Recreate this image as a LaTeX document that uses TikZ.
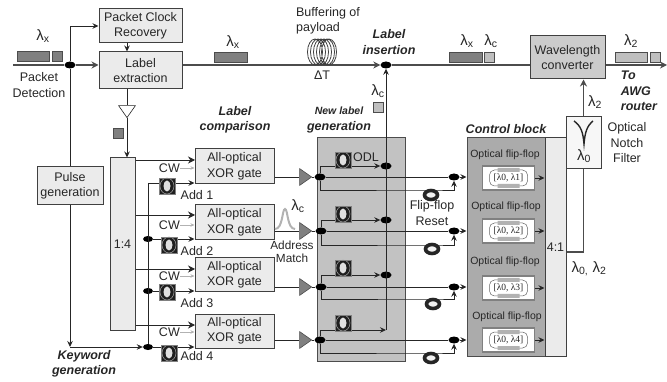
\documentclass[tikz,border=0pt]{standalone}
\usepackage{fontspec}
\setmainfont{Liberation Sans}
\newfontfamily\serifgreek{Liberation Serif}
\usetikzlibrary{shapes, arrows.meta, positioning, calc}

\begin{document}
\begin{tikzpicture}[
        x=1pt, y=-1pt,
        box/.style={rectangle, draw=black!75, line width=1pt, fill=black!8, align=center, text=black!85, font=\fontsize{12.5}{15.5}\selectfont, inner sep=0pt},
        panel/.style={rectangle, draw=black!70, line width=1pt, inner sep=0pt},
        lab/.style={align=center, inner sep=0pt, text=black!85, font=\fontsize{12.5}{15.5}\selectfont},
        lam/.style={align=center, inner sep=0pt, text=black!85, font=\fontsize{15}{17}\selectfont},
        head/.style={align=center, inner sep=0pt, text=black!85, font=\fontsize{12.5}{15.5}\selectfont\bfseries\itshape},
        small/.style={align=center, inner sep=0pt, text=black!85, font=\fontsize{10.5}{12}\selectfont},
        sig/.style={-{Stealth[length=6pt,width=5.5pt]}, line width=0.9pt, draw=black!85},
        wire/.style={line width=0.9pt, draw=black!85},
        main/.style={line width=1.4pt, draw=black!70},
        tip/.style={-{Stealth[length=7pt,width=7pt]}},
        cwarrow/.style={-{Stealth[length=4pt,width=3.5pt]}, line width=0.9pt, draw=black!30},
        dot/.style={ellipse, fill=black, inner sep=0pt, minimum width=11pt, minimum height=7pt},
        amp/.style={isosceles triangle, isosceles triangle apex angle=70, draw=black!70, fill=black!50, inner sep=0pt, minimum height=12pt, line width=0.6pt},
        pkt/.style={rectangle, draw=black!70, fill=black!50, line width=0.6pt, inner sep=0pt, minimum height=10pt},
        pktlight/.style={pkt, fill=black!25},
        loopbox/.style={rectangle, draw=black!50, fill=black!88, line width=0.7pt, minimum size=16pt, inner sep=0pt,
            path picture={\fill[black!12] (path picture bounding box.center) ellipse (3.5pt and 5.5pt);
                \draw[black!35, line width=0.5pt] (path picture bounding box.center) ellipse (7pt and 8pt);}},
        loopring/.style={ellipse, draw=black!85, line width=3.6pt, fill=black!5, minimum width=13pt, minimum height=9pt, inner sep=0pt},
        ffbox/.style={rectangle, draw=black!50, fill=white, line width=1.6pt, minimum width=52pt, minimum height=24pt, inner sep=0pt, text=black!85, font=\fontsize{9.5}{11}\serifgreek}
    ]
        \useasboundingbox (0,0) rectangle (667,382);

        % ----------------------------------------------------
        % BLOCKS
        % ----------------------------------------------------
        \node[panel, fill=black!24, minimum width=88pt, minimum height=223pt] (newlabel) at (361,249.5) {};
        \node[panel, fill=black!33, minimum width=78pt, minimum height=218pt] (control) at (506,247) {};
        \node[box, minimum width=21pt, minimum height=218pt] (mux) at (555.5,247) {4:1};
        \node[box, fill=black!3, minimum width=35pt, minimum height=52pt] (notch) at (583.5,143) {};

        \node[box, minimum width=83pt, minimum height=34pt] (clock) at (140.5,26) {Packet Clock\\Recovery};
        \node[box, minimum width=83pt, minimum height=37pt] (extract) at (140.5,70.5) {Label\\extraction};
        \node[box, minimum width=25pt, minimum height=172pt] (split) at (122.5,244) {1:4};
        \node[box, minimum width=66pt, minimum height=38pt] (pulse) at (70,186) {Pulse\\generation};
        \node[box, minimum width=79pt, minimum height=35pt] (gateone) at (234.5,166.5) {All-optical\\XOR gate};
        \node[box, minimum width=79pt, minimum height=35pt] (gatetwo) at (234.5,222.5) {All-optical\\XOR gate};
        \node[box, minimum width=79pt, minimum height=34pt] (gatethree) at (234.5,275) {All-optical\\XOR gate};
        \node[box, minimum width=79pt, minimum height=34pt] (gatefour) at (234.5,331) {All-optical\\XOR gate};
        \node[box, fill=black!20, minimum width=75pt, minimum height=43pt] (conv) at (567.5,57.5) {Wavelength\\converter};

        % ----------------------------------------------------
        % JUNCTIONS
        % ----------------------------------------------------
        \coordinate (start) at (13,65);
        \coordinate (finish) at (667,65);
        \node[dot] (detect) at (70,65) {};
        \node[dot] (ins) at (386,65) {};
        \node[dot, minimum width=10pt, minimum height=6pt] (addtwo) at (148,239) {};
        \node[dot, minimum width=10pt, minimum height=6pt] (addthree) at (148,291) {};
        \node[dot, minimum width=10pt, minimum height=6pt] (addfour) at (148,347) {};
        \coordinate (addone) at (148,183);
        \coordinate (inone) at (195,160);
        \coordinate (intwo) at (195,215);
        \coordinate (inthree) at (195,269);
        \coordinate (infour) at (195,325);

        \node[dot] (tapone) at (320,177) {};
        \node[dot] (taptwo) at (321,231) {};
        \node[dot] (tapthree) at (321,287) {};
        \node[dot] (tapfour) at (320,340) {};
        \node[dot] (odlone) at (386,166) {};
        \node[dot] (odltwo) at (386,220) {};
        \node[dot] (odlthree) at (386,275) {};
        \coordinate (odlfour) at (386,330);
        \node[dot] (joinone) at (454,177) {};
        \node[dot] (jointwo) at (454,231) {};
        \node[dot] (jointhree) at (454,287) {};
        \node[dot] (joinfour) at (454,340) {};
        \coordinate (resetone) at (431,190);
        \coordinate (resettwo) at (432,245);
        \coordinate (resetthree) at (433,299);
        \coordinate (resetfour) at (431,353);

        \node[amp, shape border rotate=270, draw=black!85, fill=white] (preamp) at (127,110) {};
        \node[amp] (ampone) at (304,177) {};
        \node[amp] (amptwo) at (304,231) {};
        \node[amp] (ampthree) at (304,287) {};
        \node[amp] (ampfour) at (304,340) {};

        \node[lab, anchor=east] (cwone) at (180,168) {CW};
        \node[lab, anchor=east] (cwtwo) at (180,225) {CW};
        \node[lab, anchor=east] (cwthree) at (180,276) {CW};
        \node[lab, anchor=east] (cwfour) at (180,332) {CW};

        % ----------------------------------------------------
        % CONNECTIONS
        % ----------------------------------------------------
        \draw[main] (start) -- (detect);
        \draw[main, tip] (detect) -- (detect -| extract.west);
        \draw[main, tip] (extract.east |- ins) -- (ins);
        \draw[main] (ins) -- (ins -| conv.west);
        \draw[main, tip] (conv.east |- finish) -- (finish);
        \draw[sig] (detect) |- (clock.west);
        \draw[wire] (detect) -- (pulse.north);
        \draw[sig] (clock.south -| preamp) -- (extract.north -| preamp);
        \draw[wire] (extract.south -| preamp) -- (preamp.north);
        \draw[sig] (preamp.south) -- (split.north -| preamp);
        \draw[sig] (pulse.south) -- (addfour -| pulse.south);
        \draw[sig] (addfour -| pulse.south) -- (addfour);
        \draw[wire] (addone) -- (addfour);

        \draw[sig, tip] (inone -| split.east) -- (inone);
        \draw[sig, tip] (intwo -| split.east) -- (intwo);
        \draw[sig, tip] (inthree -| split.east) -- (inthree);
        \draw[sig, tip] (infour -| split.east) -- (infour);
        \draw[sig] (addone) -- (addone -| gateone.west);
        \draw[sig] (addtwo) -- (addtwo -| gatetwo.west);
        \draw[sig] (addthree) -- (addthree -| gatethree.west);
        \draw[sig] (addfour) -- (addfour -| gatefour.west);
        \draw[cwarrow] (cwone.east) -- (cwone.east -| gateone.west);
        \draw[cwarrow] (cwtwo.east) -- (cwtwo.east -| gatetwo.west);
        \draw[cwarrow] (cwthree.east) -- (cwthree.east -| gatethree.west);
        \draw[cwarrow] (cwfour.east) -- (cwfour.east -| gatefour.west);

        \draw[wire] (gateone.east |- ampone) -- (ampone.lower side);
        \draw[wire] (gatetwo.east |- amptwo) -- (amptwo.lower side);
        \draw[wire] (gatethree.east |- ampthree) -- (ampthree.lower side);
        \draw[wire] (gatefour.east |- ampfour) -- (ampfour.lower side);
        \draw[wire] (ampone.apex) -- (tapone);
        \draw[wire] (amptwo.apex) -- (taptwo);
        \draw[wire] (ampthree.apex) -- (tapthree);
        \draw[wire] (ampfour.apex) -- (tapfour);

        \draw[sig] (tapone) |- (odlone);
        \draw[sig] (taptwo) |- (odltwo);
        \draw[sig] (tapthree) |- (odlthree);
        \draw[sig] (tapfour) |- (odlfour);
        \draw[sig] (odlfour) -- (ins);
        \draw[wire] (tapone) -- (joinone);
        \draw[wire] (taptwo) -- (jointwo);
        \draw[wire] (tapthree) -- (jointhree);
        \draw[wire] (tapfour) -- (joinfour);
        \draw[sig] (joinone) -- (joinone -| control.west);
        \draw[sig] (jointwo) -- (jointwo -| control.west);
        \draw[sig] (jointhree) -- (jointhree -| control.west);
        \draw[sig] (joinfour) -- (joinfour -| control.west);
        \draw[sig] (tapone) |- (resetone) -| (joinone);
        \draw[sig] (taptwo) |- (resettwo) -| (jointwo);
        \draw[sig] (tapthree) |- (resetthree) -| (jointhree);
        \draw[sig] (tapfour) |- (resetfour) -| (joinfour);

        \draw[main] (notch.south) |- (mux.east |- 0,252);
        \draw[main, tip] (notch.north) -- (notch.north |- conv.south);

        % ----------------------------------------------------
        % FIBRE LOOPS
        % ----------------------------------------------------
        \node[loopbox] (loopaddone) at (167,186) {};
        \node[loopbox] (loopaddtwo) at (169,245) {};
        \node[loopbox] (loopaddthree) at (167,292) {};
        \node[loopbox] (loopaddfour) at (169,353) {};
        \node[loopbox] (loopodlone) at (343,160) {};
        \node[loopbox] (loopodltwo) at (343,214) {};
        \node[loopbox] (loopodlthree) at (343,268) {};
        \node[loopbox] (loopodlfour) at (343,323) {};
        \node[loopring] (ringone) at (431,195) {};
        \node[loopring] (ringtwo) at (432,249) {};
        \node[loopring] (ringthree) at (433,304) {};
        \node[loopring] (ringfour) at (431,358) {};

        \draw[black!75, line width=0.8pt]
            (315,52) ellipse (7.5pt and 13pt) (318,52) ellipse (7.5pt and 13pt) (321,52) ellipse (7.5pt and 13pt)
            (324,52) ellipse (7.5pt and 13pt) (327,52) ellipse (7.5pt and 13pt) (329,52) ellipse (7.5pt and 13pt);
        \draw[black!30, line width=2pt] (275,229) .. controls (283,229) and (282,209) .. (285,209) .. controls (288,209) and (287,229) .. (295,229);
        \draw[black!85, line width=1.4pt] (574,121) .. controls (581,126) and (583,132) .. (584,144) .. controls (585,132) and (587,126) .. (593,121);

        % ----------------------------------------------------
        % FLIP-FLOPS
        % ----------------------------------------------------
        \node[ffbox] (ffone) at (508.5,178) {[λ0, λ1]};
        \node[ffbox] (fftwo) at (508.5,231) {[λ0, λ2]};
        \node[ffbox] (ffthree) at (508.5,288) {[λ0, λ3]};
        \node[ffbox] (fffour) at (508.5,340) {[λ0, λ4]};
        \draw[black!60, line width=0.5pt, rounded corners=5pt] (ffone.center) ++(-19,-8) rectangle ++(38,16);
        \draw[black!60, line width=0.5pt, rounded corners=5pt] (fftwo.center) ++(-19,-8) rectangle ++(38,16);
        \draw[black!60, line width=0.5pt, rounded corners=5pt] (ffthree.center) ++(-19,-8) rectangle ++(38,16);
        \draw[black!60, line width=0.5pt, rounded corners=5pt] (fffour.center) ++(-19,-8) rectangle ++(38,16);
        \fill[black!30] (ffone.center) ++(-11,-10) rectangle ++(22,4) (ffone.center) ++(-11,6) rectangle ++(22,4);
        \fill[black!30] (fftwo.center) ++(-11,-10) rectangle ++(22,4) (fftwo.center) ++(-11,6) rectangle ++(22,4);
        \fill[black!30] (ffthree.center) ++(-11,-10) rectangle ++(22,4) (ffthree.center) ++(-11,6) rectangle ++(22,4);
        \fill[black!30] (fffour.center) ++(-11,-10) rectangle ++(22,4) (fffour.center) ++(-11,6) rectangle ++(22,4);
        \draw[sig] (ffone.east) -- (ffone.east -| mux.west);
        \draw[sig] (fftwo.east) -- (fftwo.east -| mux.west);
        \draw[sig] (ffthree.east) -- (ffthree.east -| mux.west);
        \draw[sig] (fffour.east) -- (fffour.east -| mux.west);
        \node[small] (ffaone) at (505,155) {Optical flip-flop};
        \node[small] (ffatwo) at (506,207) {Optical flip-flop};
        \node[small] (ffathree) at (505,262) {Optical flip-flop};
        \node[small] (ffafour) at (507,317) {Optical flip-flop};

        % ----------------------------------------------------
        % PACKETS
        % ----------------------------------------------------
        \node[pkt, minimum width=32pt] (pktin) at (33,56) {};
        \node[pkt, minimum width=10pt] (pktinlab) at (57,56) {};
        \node[pkt, minimum width=33pt] (pktbuf) at (230.5,57) {};
        \node[pkt, minimum width=33pt] (pktout) at (465.5,57) {};
        \node[pktlight, minimum width=10pt] (pktoutlab) at (489.5,57) {};
        \node[pktlight, minimum width=32pt] (pktfin) at (631,57) {};
        \node[pktlight, minimum width=10pt] (pktfinlab) at (655,57) {};
        \node[pkt, minimum width=10pt] (pktdrop) at (118,133) {};
        \node[pktlight, minimum width=10pt] (pktnew) at (378,107) {};

        % ----------------------------------------------------
        % LABELS
        % ----------------------------------------------------
        \node[lam] (lamin) at (43,36) {λ\textsubscript{x}};
        \node[lam] (lambuf) at (233,42) {λ\textsubscript{x}};
        \node[lam] (lamout) at (467,41) {λ\textsubscript{x}};
        \node[lam] (lamc) at (491,41) {λ\textsubscript{c}};
        \node[lam] (lamfin) at (631,41) {λ\textsubscript{2}};
        \node[lam] (lamnew) at (378,91) {λ\textsubscript{c}};
        \node[lam] (lamaddr) at (298,206) {λ\textsubscript{c}};
        \node[lam] (lamfb) at (595,102) {λ\textsubscript{2}};
        \node[lam] (lamnotch) at (584,156) {λ\textsubscript{0}};
        \node[lam] (lammux) at (589,269) {λ\textsubscript{0,} λ\textsubscript{2}};
        \node[lab] (detectlab) at (39,85) {Packet\\Detection};
        \node[lab, align=left] (bufferlab) at (328,21) {Buffering of\\payload};
        \node[lab] (delay) at (322,75) {ΔT};
        \node[head] (inslab) at (389,42) {Label\\insertion};
        \node[head] (cmplab) at (235,120) {Label\\comparison};
        \node[head] (newlab) at (339,120) {{\fontsize{10.5}{12}\selectfont New label}\\generation};
        \node[head] (ctrllab) at (506,129) {Control block};
        \node[head] (keylab) at (84,364) {Keyword\\generation};
        \node[head, align=left] (awglab) at (639,91) {To\\AWG\\router};
        \node[lab] (notchlab) at (627,143) {Optical\\Notch\\Filter};
        \node[lab, font=\fontsize{11.8}{13.5}\selectfont] (addrlab) at (292,252) {Address\\Match};
        \node[lab] (resetlab) at (432,213) {Flip-flop\\Reset};
        \node[lab] (odllab) at (366,157) {ODL};
        \node[lab] (addonelab) at (197,195) {Add 1};
        \node[lab] (addtwolab) at (197,251) {Add 2};
        \node[lab] (addthreelab) at (197,303) {Add 3};
        \node[lab] (addfourlab) at (197,356) {Add 4};
\end{tikzpicture}
\end{document}
